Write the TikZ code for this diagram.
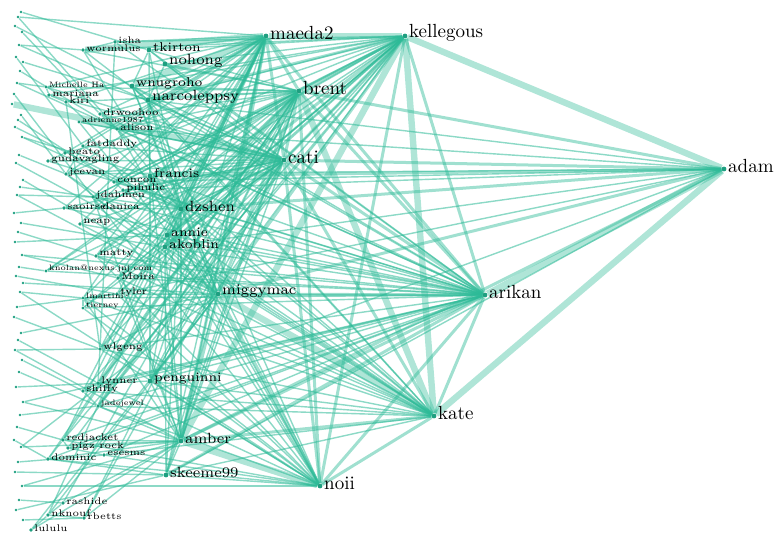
\documentclass[tikz,border=0pt]{standalone}
\usepackage{tikz}
\usetikzlibrary{positioning}
\definecolor{edgecol}{HTML}{2DBA97}
\definecolor{dotcol}{HTML}{1E9F80}
\pgfdeclarelayer{back}
\pgfsetlayers{back,main}
\tikzset{
  hubdot/.style={circle, fill=dotcol, inner sep=0pt, minimum size=2.4pt},
  leaf/.style={circle, fill=dotcol, inner sep=0pt, minimum size=1.4pt},
  labA/.style={font=\fontsize{9.5}{10}\selectfont, inner sep=0.5pt, yshift=1.5pt},
  labB/.style={font=\fontsize{7.4}{8}\selectfont, inner sep=0.5pt, yshift=1.5pt},
  labC/.style={font=\fontsize{6.4}{7}\selectfont, inner sep=0.5pt, yshift=1.3pt},
  labD/.style={font=\fontsize{4.8}{5}\selectfont, inner sep=0.4pt, yshift=1pt},
  labE/.style={font=\fontsize{3.9}{4}\selectfont, inner sep=0.4pt, yshift=1pt},
  nodeA/.style={hubdot, label={[labA]right:#1}},
  nodeB/.style={hubdot, label={[labB]right:#1}},
  nodeC/.style={hubdot, label={[labC]right:#1}},
  nodeD/.style={hubdot, minimum size=1.8pt, label={[labD]right:#1}},
  nodeE/.style={hubdot, minimum size=1.6pt, label={[labE]right:#1}},
  link/.style={draw=edgecol, line width=0.7pt, opacity=0.55},
  mlink/.style={draw=edgecol, line width=1.5pt, opacity=0.45},
  tlink/.style={draw=edgecol, line width=3.2pt, opacity=0.38},
}
\def\leaflist{12/tk,17/al,26/wn,32/dw,45/wo,57/fa,62/na,71/al,83/mh,94/jd,115/je,120/co,127/dz,137/fr,155/je,163/da,180/mi,187/dz,195/jd,213/sa,223/ak,232/mt,242/an,255/mo,267/kn,276/ty,283/mi,292/lm,307/ty,317/wl,333/mi,340/ly,350/wl,360/sh,372/jj,387/pe,402/am,415/jj,427/rj,440/dm,447/am,462/es,472/sk,486/am,500/ra,510/sk,520/rb}

\begin{document}
\begin{tikzpicture}[x=0.5pt, y=-0.5pt]
\useasboundingbox (0,0) rectangle (780,542);

\node[nodeA=maeda2] (ma) at (266,36) {};
\node[nodeA=kellegous] (ke) at (405,36) {};
\node[nodeA=brent] (br) at (299,91) {};
\node[nodeA=cati] (ca) at (284,160) {};
\node[nodeA=adam] (ad) at (724,169) {};
\node[nodeA=arikan] (ar) at (485,295) {};
\node[nodeA=kate] (ka) at (434,416) {};
\node[nodeA=noii] (no) at (320,486) {};
\node[nodeB=miggymac] (mi) at (218,294) {};
\node[nodeB=dzshen] (dz) at (181,209) {};
\node[nodeB=narcoleppsy] (na) at (148,100) {};
\node[nodeB=nohong] (nh) at (165,64) {};
\node[nodeB=amber] (am) at (181,441) {};
\node[nodeB=skeeme99] (sk) at (166,475) {};
\node[nodeC=francis] (fr) at (150,176) {};
\node[nodeC=annie] (an) at (167,235) {};
\node[nodeC=akoblin] (ak) at (165,247) {};
\node[nodeC=wnugroho] (wn) at (132,86) {};
\node[nodeC=tkirton] (tk) at (149,50) {};
\node[nodeC=penguinni] (pe) at (150,381) {};
\node[nodeD=isha] (is) at (115,42) {};
\node[nodeD=wormulus] (wo) at (83,50) {};
\node[nodeE=Michelle Ha] (mh) at (46,87) {};
\node[nodeD=mariana] (mr) at (49,95) {};
\node[nodeD=kiri] (ki) at (66,102) {};
\node[nodeD=drwoohoo] (dw) at (100,114) {};
\node[nodeE=adrienne1987] (ad87) at (79,122) {};
\node[nodeD=alison] (al) at (117,129) {};
\node[nodeD=fatdaddy] (fa) at (83,146) {};
\node[nodeD=beato] (be) at (65,153) {};
\node[nodeD=gudavagling] (gu) at (48,161) {};
\node[nodeD=jeevan] (je) at (66,174) {};
\node[nodeD=concon] (co) at (114,182) {};
\node[nodeD=pihulic] (pi) at (123,190) {};
\node[nodeD=jdahmen] (jd) at (93,197) {};
\node[nodeD=saoirse] (sa) at (64,208) {};
\node[nodeD=danica] (da) at (99,208) {};
\node[nodeD=neap] (ne) at (80,224) {};
\node[nodeD=matty] (mt) at (96,256) {};
\node[nodeE=knolan@nexus.jnj.com] (kn) at (46,271) {};
\node[nodeD=Moira] (mo) at (118,278) {};
\node[nodeD=tyler] (ty) at (117,294) {};
\node[nodeE=lmartini] (lm) at (83,298) {};
\node[nodeE=tierney] (ti) at (83,308) {};
\node[nodeD=wlgeng] (wl) at (100,349) {};
\node[nodeD=lynner] (ly) at (98,383) {};
\node[nodeD=shiffy] (sh) at (83,391) {};
\node[nodeE=jadejewel] (jj) at (98,406) {};
\node[nodeD=redjacket] (rj) at (63,440) {};
\node[nodeD=pigz rock] (pg) at (68,448) {};
\node[nodeD=esesms] (es) at (104,455) {};
\node[nodeD=dominic] (dm) at (48,459) {};
\node[nodeD=rashide] (ra) at (63,503) {};
\node[nodeD=nknouf] (nk) at (48,515) {};
\node[nodeD=rbetts] (rb) at (84,518) {};
\node[nodeD=lululu] (lu) at (31,530) {};
\node[leaf] (lf) at (12,104) {};
\foreach \y/\t [count=\i] in \leaflist {
  \pgfmathtruncatemacro\tx{14+mod(7*\i,10)}
  \node[leaf] (t\i) at (\tx,\y) {};
}

\begin{pgfonlayer}{back}
\foreach \a/\b in {ma/ke, ke/ad, ke/ka, ad/ka, ad/ar, wo/ma, ke/am, am/no, lf/ca, ma/wn, mi/ka, br/ka}
  \draw[tlink] (\a) -- (\b);
\foreach \a/\b in {ma/br, ma/ca, ma/ar, ma/mi, ma/dz, ma/am, ke/br, ke/ca, ke/mi, ke/na, ke/ar, ke/dz, ke/no,
  br/ca, br/ar, br/ad, br/mi, br/no, ca/ad, ca/ar, ca/ka, ca/no, ar/ka, ar/no, ar/mi, ar/am, ar/sk,
  ka/no, ka/am, mi/no, mi/am, ad/mi, ad/dz, ad/fr, ad/am}
  \draw[mlink] (\a) -- (\b);
\foreach \s/\tgts in {tk/{ma,ke,br,ca,ar,fr,dz,wn}, nh/{ke,br,ar,na}, is/{ma,ke,wl,ca}, wo/{ke,is,br,dz,na},
  wn/{ke,br,ca,ar,ka,dz,mi,na}, na/{ma,br,ca,ar,ka,no,mi,dz,fr,ad}, mh/{ma,br,mr,ca}, mr/{ke,ca,ki},
  ki/{ma,wl,br,dz}, dw/{ma,ke,ca,ar,al}, ad87/{br,ca,mi,al}, al/{ma,ke,br,ca,ar,ka,no,dz,ad},
  fa/{ma,ca,dz,je}, be/{ma,br,gu}, gu/{ca,ar}, je/{ma,ke,ca,mi,ka,ad}, co/{ma,ke,br,ar,fr,pi,ad},
  pi/{ca,ad,dz,ka}, jd/{ma,ke,br,ca,ar,ka,no,am,da}, sa/{ma,ca,ar,da}, da/{ke,br,dz,mi}, ne/{ma,ca,ar,mi},
  fr/{ke,br,ca,ar,ka,no,dz,mi,am,pe}, dz/{br,ca,ar,ka,no,mi,am,pe,sk,ak}, an/{ma,ke,br,ca,ar,ka,no},
  ak/{ma,ke,br,ca,ad,ar,ka,no,mi,am,sk}, mt/{ma,ke,br,ca,ar,ka,mi,mo}, kn/{ke,br,ca,ar},
  mo/{ma,ke,br,ca,ar,ka,no,am}, ty/{ma,ke,ca,ad,ar,ka,no,lm}, lm/{ma,br,ar,ka,no,am,ti}, ti/{ke,ca,ar,no},
  mi/{ca,sk,pe,wl}, wl/{ma,ke,br,ar,ka,no,ly}, ly/{ma,br,ca,ar,no,sh}, sh/{ma,ke,ar,ka,jj},
  jj/{ke,br,ca,ar,ka,no,am}, pe/{ma,ke,br,ca,ad,ar,ka,no,am}, am/{ma,br,ca,sk}, sk/{ma,br,ka,no,ad},
  rj/{ma,ke,br,ar,am,no,pg}, pg/{ca,ar,am,es}, es/{ka,ar,no}, dm/{br,ar,am,sk,no,rj}, ra/{am,br,nk},
  nk/{ma,mi,rb}, rb/{br,am,ca}, lu/{am,mi,nk}}
  \foreach \t in \tgts
    \draw[link] (\s) -- (\t);
\foreach \y/\t [count=\i] in \leaflist
  \draw[link] (t\i) -- (\t);
\foreach \i/\t in {2/ma, 5/ca, 9/ar, 14/dz, 19/ka, 24/ar, 28/no, 33/am, 37/ar, 41/mi, 44/no}
  \draw[link] (t\i) -- (\t);
\end{pgfonlayer}
\end{tikzpicture}
\end{document}
